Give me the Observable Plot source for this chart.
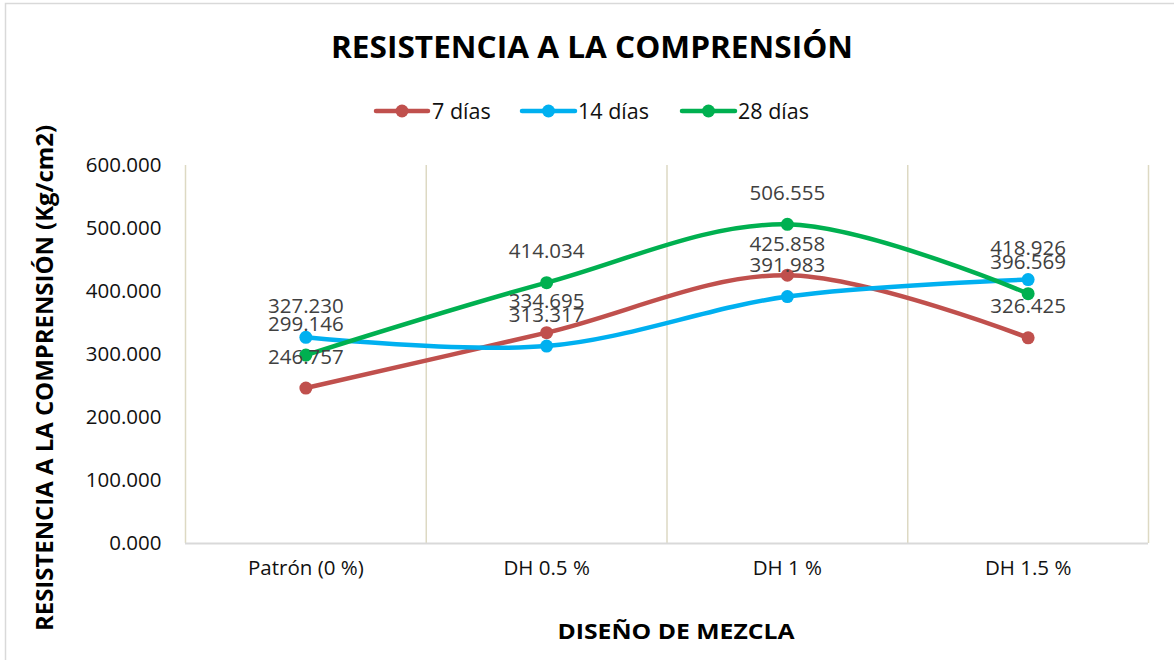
<!DOCTYPE html>
<html>
<head>
<meta charset="utf-8">
<script src="https://cdn.jsdelivr.net/npm/d3@7"></script>
<script src="https://cdn.jsdelivr.net/npm/@observablehq/plot@0.6"></script>
<style>
  html, body { margin: 0; padding: 0; background: #fff; }
  #chart { position: relative; width: 1174px; height: 660px; overflow: hidden; }
</style>
</head>
<body>
<div id="chart"></div>
<script>
// ---- data ----
const categories = ["Patrón (0 %)", "DH 0.5 %", "DH 1 %", "DH 1.5 %"];
const seriesNames = ["7 días", "14 días", "28 días"];
const dias7 = [246.757, 334.695, 425.858, 326.425];
const dias14 = [327.230, 313.317, 391.983, 418.926];
const dias28 = [299.146, 414.034, 506.555, 396.569];
const yTicks = [0, 100, 200, 300, 400, 500, 600];
const colors = ["#C0504D", "#00B0F0", "#00B050"];
const chartTitle = "RESISTENCIA A LA COMPRENSIÓN";
const yTitle = "RESISTENCIA A LA COMPRENSIÓN (Kg/cm2)";
const xTitle = "DISEÑO DE MEZCLA";

const seriesValues = [dias7, dias14, dias28];
const rows = [];
seriesValues.forEach((vals, s) => vals.forEach((v, i) => rows.push({series: seriesNames[s], i, value: v})));
const fmt = d3.format(".3f");

const W = 1174, H = 660;
const plot = Plot.plot({
  width: W, height: H,
  marginLeft: 185, marginRight: 26, marginTop: 165, marginBottom: 117,
  style: {fontFamily: "'Open Sans', sans-serif", fontSize: "20.5px", color: "#111", background: "transparent"},
  x: {type: "linear", domain: [-0.5, 3.5], ticks: [0, 1, 2, 3], tickFormat: i => categories[i], tickSize: 0, tickPadding: 17, label: null},
  y: {domain: [0, 600], ticks: yTicks, tickFormat: fmt, tickSize: 0, tickPadding: 24, label: null},
  color: {domain: seriesNames, range: colors},
  marks: [
    Plot.ruleX([-0.5, 0.5, 1.5, 2.5, 3.5], {y1: 0, y2: 600, stroke: "#DDD9C3", strokeWidth: 1.5}),
    Plot.ruleY([0], {stroke: "#D9D9D9", strokeWidth: 2}),
    Plot.line(rows, {x: "i", y: "value", z: "series", stroke: "series", curve: "catmull-rom", strokeWidth: 4.5, strokeLinecap: "round"}),
    Plot.dot(rows, {x: "i", y: "value", fill: "series", r: 6.5}),
    Plot.text(rows, {x: "i", y: "value", text: d => fmt(d.value), dy: -31, fill: "#404040", fontSize: 20.5})
  ]
});
plot.style.position = "absolute";
plot.style.left = "0px";
plot.style.top = "0px";
document.getElementById("chart").appendChild(plot);

const svg = d3.select(plot);
// chart border
svg.insert("rect", ":first-child").attr("x", 5.5).attr("y", 3.5).attr("width", W + 20).attr("height", H + 20)
  .attr("fill", "none").attr("stroke", "#D9D9D9").attr("stroke-width", 1.5);

const font = "'Open Sans', sans-serif";
// title
svg.append("text").attr("x", 592).attr("y", 58).attr("text-anchor", "middle")
  .attr("font-family", font).attr("font-weight", "bold").attr("font-size", 31).attr("fill", "#000")
  .attr("textLength", 522).attr("lengthAdjust", "spacingAndGlyphs").text(chartTitle);
// x title
svg.append("text").attr("x", 676).attr("y", 639).attr("text-anchor", "middle")
  .attr("font-family", font).attr("font-weight", "bold").attr("font-size", 22).attr("fill", "#000")
  .attr("textLength", 237).attr("lengthAdjust", "spacingAndGlyphs").text(xTitle);
// y title
svg.append("text").attr("transform", "translate(53,378) rotate(-90)").attr("text-anchor", "middle")
  .attr("font-family", font).attr("font-weight", "bold").attr("font-size", 23).attr("fill", "#000")
  .attr("textLength", 506).attr("lengthAdjust", "spacingAndGlyphs").text(yTitle);

// legend
const legendItems = [
  {x1: 376, x2: 428, tx: 432},
  {x1: 522, x2: 575, tx: 578},
  {x1: 682, x2: 735, tx: 738}
];
legendItems.forEach((it, k) => {
  const g = svg.append("g");
  g.append("line").attr("x1", it.x1).attr("x2", it.x2).attr("y1", 111).attr("y2", 111)
    .attr("stroke", colors[k]).attr("stroke-width", 4.5).attr("stroke-linecap", "round");
  g.append("circle").attr("cx", (it.x1 + it.x2) / 2).attr("cy", 111).attr("r", 6.5).attr("fill", colors[k]);
  g.append("text").attr("x", it.tx).attr("y", 118.5).attr("text-anchor", "start")
    .attr("font-family", font).attr("font-size", 21.5).attr("fill", "#111").text(seriesNames[k]);
});
</script>
</body>
</html>
